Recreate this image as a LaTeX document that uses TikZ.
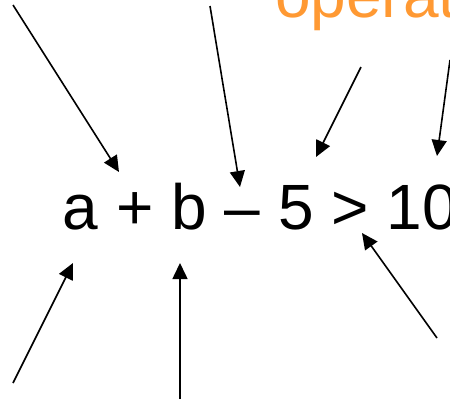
\documentclass[tikz,border=0pt]{standalone}
\usepackage{fontspec}
\setmainfont{Liberation Sans}
\usetikzlibrary{arrows.meta,positioning}
\definecolor{oporange}{RGB}{255,153,51}
\tikzset{
  expr/.style = {inner sep=0pt, anchor=base west,
                 font=\fontsize{64}{70}\selectfont},
  lab/.style  = {expr, text=oporange},
  arr/.style  = {-{Triangle[length=16pt, width=15pt]}, draw=black, line width=1.6pt},
}
\begin{document}
\begin{tikzpicture}[x=1pt, y=-1pt]
  \path[use as bounding box, clip] (0,0) rectangle (450,400);
  \node[lab] (ops) at (274.8,17) {operators};
  \node[expr] (ex) at (62.6,229) {a + b – 5 > 10};
  % arrow tails (their labels lie outside the picture)
  \coordinate (t1) at (13,5);
  \coordinate (t2) at (210,6);
  \coordinate (t3) at (361,67);
  \coordinate (t4) at (450,60);
  \coordinate (t5) at (13,383);
  \coordinate (t6) at (180,399);
  \coordinate (t7) at (437,338);
  % arrow heads at the expression
  \coordinate (h1) at (119,172);
  \coordinate (h2) at (240,187);
  \coordinate (h3) at (316,157);
  \coordinate (h4) at (437,156);
  \coordinate (h5) at (73,263);
  \coordinate (h6) at (180,263);
  \coordinate (h7) at (362,233);
  \draw[arr] (t1) -- (h1);
  \draw[arr] (t2) -- (h2);
  \draw[arr] (t3) -- (h3);
  \draw[arr] (t4) -- (h4);
  \draw[arr] (t5) -- (h5);
  \draw[arr] (t6) -- (h6);
  \draw[arr] (t7) -- (h7);
\end{tikzpicture}
\end{document}
